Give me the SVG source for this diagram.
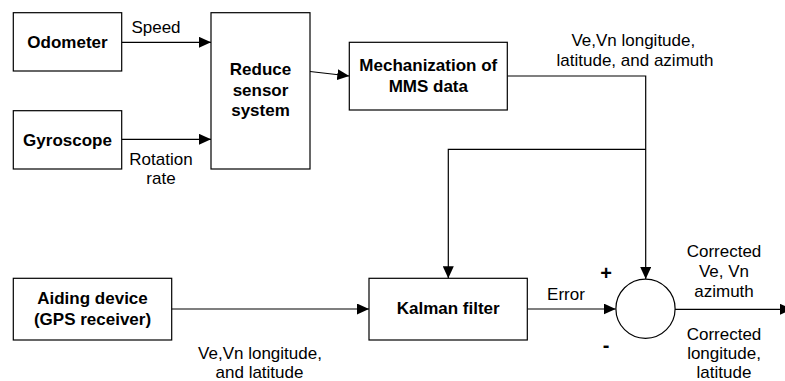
<svg xmlns="http://www.w3.org/2000/svg" width="785" height="381" viewBox="0 0 785 381">
<defs>
<style>
.box{fill:#fff;stroke:#000;stroke-width:1.2}
.nt{font-family:"Liberation Sans",Arial,sans-serif;font-size:17px;font-weight:bold;text-anchor:middle;fill:#000}
.lb{font-family:"Liberation Sans",Arial,sans-serif;font-size:17px;text-anchor:middle;fill:#000}
.sg{font-family:"Liberation Sans",Arial,sans-serif;font-size:20px;font-weight:bold;text-anchor:middle;fill:#000}
.ln{fill:none;stroke:#000;stroke-width:1.2}
.arr{marker-end:url(#ah)}
</style>
<marker id="ah" markerUnits="userSpaceOnUse" markerWidth="12" markerHeight="11" refX="12" refY="5.5" orient="auto">
<path d="M0,0 L12,5.5 L0,11 z" fill="#000"/>
</marker>
</defs>
<rect width="785" height="381" fill="#fff"/>
<g id="connectors">
<line class="ln arr" x1="122" y1="42.3" x2="211" y2="42.3"/>
<line class="ln arr" x1="122" y1="139.3" x2="211" y2="139.3"/>
<line class="ln arr" x1="310" y1="71.5" x2="349.3" y2="76"/>
<polyline class="ln arr" points="507.3,76 645.7,76 645.7,279"/>
<polyline class="ln arr" points="645.7,149.3 448.3,149.3 448.3,278.3"/>
<line class="ln arr" x1="171.7" y1="309" x2="369" y2="309"/>
<line class="ln arr" x1="527.3" y1="309" x2="615.7" y2="309"/>
<line class="ln arr" x1="675" y1="309.3" x2="792" y2="309.3"/>
<text class="lb" x="156" y="33.3">Speed</text>
<text class="lb" x="161" y="165">Rotation</text>
<text class="lb" x="161" y="184.3">rate</text>
<text class="lb" x="633.3" y="45.7">Ve,Vn longitude,</text>
<text class="lb" x="635" y="65.7">latitude, and azimuth</text>
<text class="lb" x="260" y="359">Ve,Vn longitude,</text>
<text class="lb" x="259.5" y="377.5">and latitude</text>
<text class="lb" x="566" y="300">Error</text>
<text class="sg" x="606" y="280">+</text>
<text class="sg" x="606" y="352">-</text>
<text class="lb" x="724" y="257.3">Corrected</text>
<text class="lb" x="724" y="277">Ve, Vn</text>
<text class="lb" x="724" y="296.7">azimuth</text>
<text class="lb" x="724" y="339.5">Corrected</text>
<text class="lb" x="724" y="358.5">longitude,</text>
<text class="lb" x="724" y="377.5">latitude</text>
</g>
<g id="odometer">
<rect class="box" x="13.3" y="12.7" width="108.4" height="58.3"/>
<text class="nt" x="67.5" y="47.7">Odometer</text>
</g>
<g id="gyroscope">
<rect class="box" x="13.3" y="110.7" width="108.4" height="58.3"/>
<text class="nt" x="67.5" y="145.5">Gyroscope</text>
</g>
<g id="reduce">
<rect class="box" x="211" y="12.7" width="99" height="156.3"/>
<text class="nt" x="260.5" y="75">Reduce</text>
<text class="nt" x="260.5" y="95.5">sensor</text>
<text class="nt" x="260.5" y="115.5">system</text>
</g>
<g id="mechanization">
<rect class="box" x="349.3" y="42.3" width="158" height="67.7"/>
<text class="nt" x="428.3" y="71">Mechanization of</text>
<text class="nt" x="428.3" y="91.7">MMS data</text>
</g>
<g id="aiding">
<rect class="box" x="13.3" y="278.3" width="158.4" height="61.7"/>
<text class="nt" x="92.5" y="304.3">Aiding device</text>
<text class="nt" x="92.5" y="324.5">(GPS receiver)</text>
</g>
<g id="kalman">
<rect class="box" x="369" y="278.3" width="158.3" height="61.7"/>
<text class="nt" x="448.2" y="314">Kalman filter</text>
</g>
<g id="sum">
<circle class="box" cx="645.5" cy="308.7" r="29.6"/>
</g>
</svg>
